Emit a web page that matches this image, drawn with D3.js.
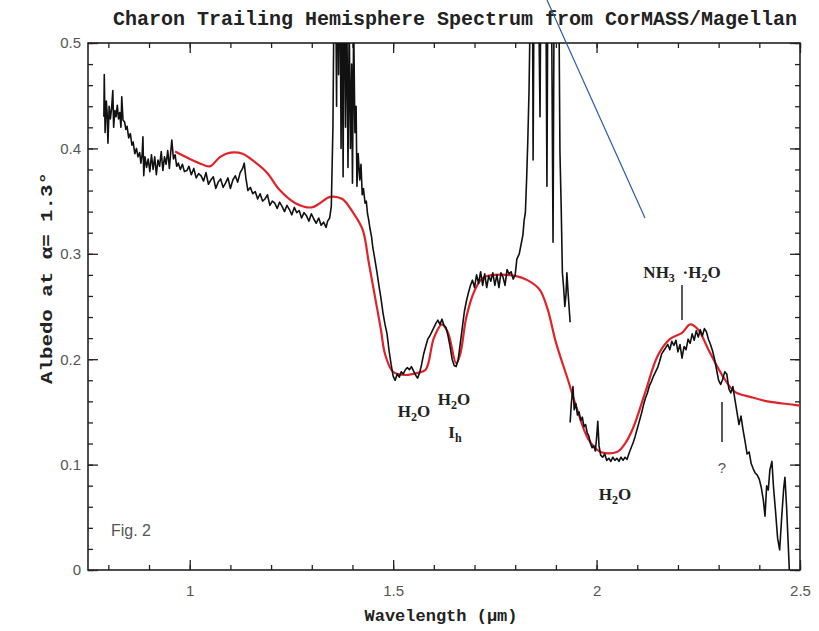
<!DOCTYPE html>
<html>
<head>
<meta charset="utf-8">
<script src="https://cdn.jsdelivr.net/npm/d3@7"></script>
<style>
  body { margin: 0; background: #fff; }
  svg { display: block; }
</style>
</head>
<body>
<svg id="chart"></svg>
<script>
// observed spectrum, part 1 (0.79 - 1.94 um)   [wavelength, albedo]
const spectrumA = [
  [0.789,0.430],[0.790,0.470],[0.792,0.415],[0.795,0.445],[0.797,0.434],[0.799,0.405],
  [0.802,0.440],[0.805,0.428],[0.808,0.438],[0.811,0.455],[0.813,0.420],[0.816,0.436],
  [0.819,0.430],[0.822,0.441],[0.825,0.428],[0.828,0.434],[0.831,0.420],[0.833,0.449],
  [0.836,0.427],[0.840,0.425],[0.843,0.418],[0.846,0.421],[0.850,0.410],[0.854,0.414],
  [0.858,0.403],[0.861,0.406],[0.865,0.395],[0.869,0.400],[0.873,0.392],[0.877,0.396],
  [0.880,0.386],[0.883,0.394],[0.885,0.411],[0.887,0.374],[0.890,0.392],[0.894,0.382],
  [0.898,0.390],[0.902,0.378],[0.906,0.394],[0.910,0.380],[0.914,0.392],[0.918,0.375],
  [0.922,0.389],[0.926,0.383],[0.930,0.397],[0.934,0.379],[0.938,0.392],[0.942,0.385],
  [0.946,0.398],[0.950,0.381],[0.953,0.395],[0.956,0.408],[0.960,0.390],[0.964,0.394],
  [0.968,0.383],[0.972,0.386],[0.977,0.380],[0.982,0.385],[0.987,0.378],[0.993,0.379],
  [0.998,0.383],[1.004,0.375],[1.010,0.381],[1.016,0.372],[1.022,0.376],[1.028,0.374],
  [1.034,0.369],[1.040,0.377],[1.046,0.366],[1.052,0.370],[1.058,0.373],[1.064,0.362],
  [1.070,0.368],[1.076,0.371],[1.082,0.363],[1.088,0.367],[1.094,0.372],[1.100,0.362],
  [1.106,0.370],[1.112,0.374],[1.118,0.368],[1.124,0.377],[1.130,0.381],[1.134,0.386],
  [1.138,0.372],[1.143,0.360],[1.149,0.363],[1.155,0.357],[1.161,0.359],[1.167,0.352],
  [1.173,0.357],[1.179,0.350],[1.185,0.352],[1.191,0.356],[1.197,0.346],[1.203,0.350],
  [1.209,0.348],[1.215,0.343],[1.221,0.349],[1.227,0.345],[1.233,0.340],[1.239,0.346],
  [1.245,0.342],[1.251,0.337],[1.257,0.344],[1.263,0.339],[1.269,0.341],[1.275,0.334],
  [1.281,0.339],[1.287,0.336],[1.293,0.331],[1.299,0.338],[1.305,0.333],[1.311,0.329],
  [1.317,0.334],[1.323,0.327],[1.329,0.330],[1.335,0.325],[1.339,0.331],[1.344,0.334],
  [1.348,0.345],[1.352,0.420],[1.355,0.560],[1.358,0.600],[1.361,0.440],[1.363,0.620],
  [1.366,0.470],[1.369,0.600],[1.372,0.400],[1.375,0.560],[1.377,0.373],[1.380,0.600],
  [1.383,0.420],[1.386,0.540],[1.389,0.382],[1.392,0.520],[1.395,0.400],[1.398,0.480],
  [1.400,0.367],[1.403,0.520],[1.406,0.415],[1.409,0.440],[1.411,0.364],[1.414,0.395],
  [1.418,0.370],[1.421,0.385],[1.424,0.356],[1.427,0.362],[1.431,0.348],[1.434,0.350],
  [1.437,0.338],[1.440,0.332],[1.443,0.324],[1.447,0.316],[1.450,0.306],[1.455,0.295],
  [1.460,0.283],[1.465,0.270],[1.470,0.258],[1.475,0.244],[1.480,0.233],[1.485,0.224],
  [1.490,0.208],[1.495,0.195],[1.500,0.184],[1.505,0.180],[1.510,0.186],[1.515,0.183],
  [1.520,0.188],[1.525,0.186],[1.530,0.190],[1.535,0.192],[1.540,0.190],[1.545,0.193],
  [1.550,0.189],[1.555,0.185],[1.560,0.182],[1.565,0.187],[1.570,0.195],[1.575,0.205],
  [1.580,0.212],[1.585,0.219],[1.590,0.222],[1.595,0.226],[1.600,0.230],[1.605,0.234],
  [1.610,0.237],[1.615,0.233],[1.620,0.238],[1.625,0.232],[1.630,0.230],[1.635,0.222],
  [1.640,0.212],[1.645,0.200],[1.650,0.194],[1.655,0.193],[1.660,0.200],[1.665,0.215],
  [1.670,0.230],[1.675,0.245],[1.680,0.255],[1.685,0.263],[1.690,0.270],[1.695,0.275],
  [1.700,0.268],[1.705,0.280],[1.710,0.272],[1.715,0.283],[1.720,0.270],[1.725,0.281],
  [1.730,0.268],[1.735,0.279],[1.740,0.274],[1.745,0.282],[1.750,0.270],[1.755,0.280],
  [1.760,0.268],[1.765,0.282],[1.770,0.278],[1.775,0.270],[1.780,0.285],[1.785,0.281],
  [1.790,0.283],[1.795,0.276],[1.800,0.280],[1.804,0.295],[1.810,0.300],[1.815,0.310],
  [1.819,0.318],[1.822,0.332],[1.825,0.339],[1.828,0.370],[1.831,0.408],[1.834,0.455],
  [1.838,0.560],[1.842,0.620],[1.844,0.389],[1.847,0.600],[1.850,0.640],[1.853,0.560],
  [1.856,0.600],[1.861,0.430],[1.864,0.620],[1.868,0.600],[1.872,0.650],[1.875,0.580],
  [1.878,0.364],[1.881,0.620],[1.885,0.600],[1.889,0.560],[1.893,0.311],[1.896,0.580],
  [1.900,0.620],[1.904,0.600],[1.907,0.560],[1.910,0.396],[1.913,0.345],[1.916,0.282],
  [1.919,0.268],[1.922,0.250],[1.925,0.262],[1.927,0.282],[1.930,0.263],[1.935,0.235]
];

// observed spectrum, part 2 (1.94 - 2.48 um)
const spectrumB = [
  [1.935,0.140],[1.938,0.158],[1.942,0.174],[1.945,0.152],[1.949,0.158],[1.953,0.147],
  [1.957,0.150],[1.961,0.142],[1.965,0.145],[1.969,0.136],[1.973,0.138],[1.977,0.130],
  [1.981,0.127],[1.985,0.120],[1.989,0.116],[1.993,0.118],[1.997,0.113],[2.000,0.125],
  [2.003,0.141],[2.006,0.118],[2.010,0.109],[2.015,0.107],[2.020,0.110],[2.025,0.104],
  [2.030,0.106],[2.035,0.103],[2.040,0.107],[2.045,0.104],[2.050,0.106],[2.055,0.103],
  [2.060,0.107],[2.065,0.104],[2.070,0.107],[2.075,0.105],[2.080,0.111],[2.085,0.116],
  [2.090,0.121],[2.095,0.127],[2.100,0.134],[2.105,0.141],[2.110,0.148],[2.115,0.156],
  [2.120,0.163],[2.125,0.168],[2.130,0.175],[2.135,0.179],[2.140,0.184],[2.145,0.188],
  [2.150,0.192],[2.155,0.198],[2.160,0.205],[2.165,0.208],[2.170,0.211],[2.175,0.214],
  [2.180,0.209],[2.185,0.217],[2.190,0.213],[2.195,0.218],[2.200,0.207],[2.205,0.214],
  [2.210,0.201],[2.215,0.212],[2.220,0.209],[2.225,0.219],[2.230,0.215],[2.235,0.224],
  [2.240,0.218],[2.245,0.227],[2.250,0.221],[2.255,0.228],[2.260,0.222],[2.265,0.229],
  [2.270,0.226],[2.275,0.219],[2.280,0.214],[2.285,0.208],[2.290,0.200],[2.295,0.190],
  [2.300,0.180],[2.305,0.176],[2.310,0.181],[2.315,0.188],[2.320,0.186],[2.325,0.172],
  [2.330,0.168],[2.335,0.174],[2.340,0.162],[2.345,0.150],[2.350,0.138],[2.355,0.146],
  [2.360,0.133],[2.365,0.122],[2.370,0.110],[2.375,0.112],[2.380,0.101],[2.385,0.096],
  [2.390,0.092],[2.395,0.090],[2.400,0.086],[2.405,0.078],[2.410,0.066],[2.414,0.051],
  [2.418,0.080],[2.422,0.076],[2.426,0.095],[2.431,0.103],[2.435,0.078],[2.440,0.055],
  [2.445,0.030],[2.450,0.019],[2.455,0.050],[2.460,0.078],[2.463,0.088],[2.467,0.060],
  [2.471,0.025],[2.476,-0.020]
];

// model spectrum (red)
const modelWave = [0.964,1.000,1.030,1.050,1.075,1.100,1.130,1.150,1.190,1.220,1.260,1.300,
  1.320,1.345,1.375,1.400,1.425,1.440,1.455,1.470,1.480,1.500,1.530,1.560,1.580,1.600,1.620,
  1.635,1.655,1.665,1.680,1.700,1.720,1.750,1.800,1.830,1.860,1.880,1.900,1.930,1.950,1.980,
  2.010,2.050,2.070,2.090,2.120,2.150,2.180,2.210,2.230,2.250,2.275,2.310,2.340,2.380,2.420,
  2.480,2.500];
const modelAlbedo = [0.397,0.390,0.385,0.383,0.392,0.396,0.395,0.390,0.377,0.361,0.348,0.344,
  0.348,0.354,0.352,0.340,0.323,0.292,0.260,0.228,0.205,0.188,0.185,0.187,0.190,0.220,0.233,
  0.225,0.196,0.205,0.240,0.265,0.277,0.280,0.279,0.275,0.266,0.247,0.216,0.180,0.155,0.124,
  0.112,0.112,0.120,0.135,0.169,0.203,0.219,0.225,0.233,0.228,0.209,0.184,0.169,0.164,0.160,
  0.157,0.156];

const xMajor = [1, 1.5, 2, 2.5];
const yMajor = [0, 0.1, 0.2, 0.3, 0.4, 0.5];

const W = 819, H = 631;
const svg = d3.select('#chart').attr('width', W).attr('height', H);

const x = d3.scaleLinear().domain([0.75, 2.5]).range([88, 800]);
const y = d3.scaleLinear().domain([0, 0.5]).range([570, 43]);

const xMinor = d3.range(8, 26).map(d => d / 10);
const yMinor = d3.range(0, 26).map(d => d / 50);

svg.append('defs').append('clipPath').attr('id', 'plotclip')
  .append('rect')
  .attr('x', x(0.75)).attr('y', y(0.5))
  .attr('width', x(2.5) - x(0.75)).attr('height', y(0) - y(0.5));

// axes - ticks point inward on all four sides
function ticks(axis, values, size, tf, tx, ty, labels) {
  const g = svg.append('g')
    .attr('transform', `translate(${tx},${ty})`)
    .call(axis.tickValues(values).tickSize(-size).tickFormat(labels ? tf : ''));
  g.select('.domain').remove();
  g.selectAll('.tick line').attr('stroke', '#222').attr('stroke-width', 1.3);
  return g;
}

const fmtY = d => d === 0 ? '0' : d3.format('.1f')(d);
const fmtX = d => d3.format('~g')(d);

ticks(d3.axisBottom(x), xMinor, 5, fmtX, 0, y(0), false);
const xb = ticks(d3.axisBottom(x), xMajor, 10, fmtX, 0, y(0), true);
ticks(d3.axisTop(x), xMinor, 5, fmtX, 0, y(0.5), false);
ticks(d3.axisTop(x), xMajor, 10, fmtX, 0, y(0.5), false);
ticks(d3.axisLeft(y), yMinor, 5, fmtY, x(0.75), 0, false);
const yl = ticks(d3.axisLeft(y), yMajor, 10, fmtY, x(0.75), 0, true);
ticks(d3.axisRight(y), yMinor, 5, fmtY, x(2.5), 0, false);
ticks(d3.axisRight(y), yMajor, 10, fmtY, x(2.5), 0, false);

xb.selectAll('.tick text')
  .attr('y', 15)
  .attr('font-family', 'Liberation Sans, Arial, sans-serif')
  .attr('font-size', 15).attr('fill', '#555');
yl.selectAll('.tick text')
  .attr('x', -7)
  .attr('font-family', 'Liberation Sans, Arial, sans-serif')
  .attr('font-size', 15).attr('fill', '#555');

// frame
svg.append('rect')
  .attr('x', x(0.75)).attr('y', y(0.5))
  .attr('width', x(2.5) - x(0.75)).attr('height', y(0) - y(0.5))
  .attr('fill', 'none').attr('stroke', '#222').attr('stroke-width', 1.6);

const plot = svg.append('g').attr('clip-path', 'url(#plotclip)');

const obsLine = d3.line().x(d => x(d[0])).y(d => y(d[1]));

// red model
const model = modelWave.map((w, i) => [w, modelAlbedo[i]]);
plot.append('path')
  .datum(model)
  .attr('d', d3.line().x(d => x(d[0])).y(d => y(d[1])).curve(d3.curveCatmullRom.alpha(0.5)))
  .attr('fill', 'none').attr('stroke', '#e0232b').attr('stroke-width', 2.2);

[spectrumA, spectrumB].forEach(s => {
  plot.append('path')
    .datum(s)
    .attr('d', obsLine)
    .attr('fill', 'none').attr('stroke', '#111').attr('stroke-width', 1.6)
    .attr('stroke-linejoin', 'round');
});

// titles
svg.append('text')
  .attr('x', 455).attr('y', 25)
  .attr('text-anchor', 'middle')
  .attr('font-family', 'Liberation Mono, DejaVu Sans Mono, monospace')
  .attr('font-weight', 'bold').attr('font-size', 20)
  .attr('textLength', 684).attr('lengthAdjust', 'spacingAndGlyphs')
  .attr('fill', '#222')
  .text('Charon Trailing Hemisphere Spectrum from CorMASS/Magellan');

svg.append('text')
  .attr('x', 441).attr('y', 621)
  .attr('text-anchor', 'middle')
  .attr('font-family', 'Liberation Mono, DejaVu Sans Mono, monospace')
  .attr('font-weight', 'bold').attr('font-size', 17)
  .attr('fill', '#222')
  .text('Wavelength (\u03bcm)');

svg.append('text')
  .attr('transform', 'translate(52,278) rotate(-90)')
  .attr('text-anchor', 'middle')
  .attr('font-family', 'Liberation Mono, DejaVu Sans Mono, monospace')
  .attr('font-weight', 'bold').attr('font-size', 17)
  .attr('textLength', 212).attr('lengthAdjust', 'spacingAndGlyphs')
  .attr('fill', '#222')
  .text('Albedo at \u03b1= 1.3\u00b0');

svg.append('text')
  .attr('x', 111).attr('y', 536)
  .attr('font-family', 'Liberation Sans, Arial, sans-serif')
  .attr('font-size', 16).attr('fill', '#555')
  .text('Fig. 2');

// annotations
const serif = 'Liberation Serif, DejaVu Serif, serif';
function chem(xp, yp, parts) {
  const t = svg.append('text')
    .attr('x', xp).attr('y', yp)
    .attr('text-anchor', 'middle')
    .attr('font-family', serif).attr('font-weight', 'bold')
    .attr('font-size', 17).attr('fill', '#222');
  parts.forEach(p => {
    const s = t.append('tspan').text(p[0]);
    if (p[1]) s.attr('font-size', 12).attr('dy', 4);
    else if (p[2]) s.attr('dy', -4);
  });
  return t;
}
chem(414, 417, [['H'], ['2', true], ['O', false, true]]);
chem(454, 405, [['H'], ['2', true], ['O', false, true]]);
chem(455, 438, [['I'], ['h', true]]);
chem(615, 500, [['H'], ['2', true], ['O', false, true]]);
chem(682, 278, [['NH'], ['3', true], ['\u2009 \u00b7H', false, true], ['2', true], ['O', false, true]]);

svg.append('line')
  .attr('x1', 682).attr('x2', 682).attr('y1', 285).attr('y2', 320)
  .attr('stroke', '#222').attr('stroke-width', 1.5);
svg.append('line')
  .attr('x1', 722).attr('x2', 722).attr('y1', 402).attr('y2', 442)
  .attr('stroke', '#222').attr('stroke-width', 1.5);
svg.append('text')
  .attr('x', 722).attr('y', 473)
  .attr('text-anchor', 'middle')
  .attr('font-family', 'Liberation Sans, Arial, sans-serif')
  .attr('font-size', 15).attr('fill', '#555')
  .text('?');

// stray pointer line
svg.append('line')
  .attr('x1', 547).attr('y1', 0).attr('x2', 645).attr('y2', 218)
  .attr('stroke', '#2e5aa6').attr('stroke-width', 1.2);
</script>
</body>
</html>
